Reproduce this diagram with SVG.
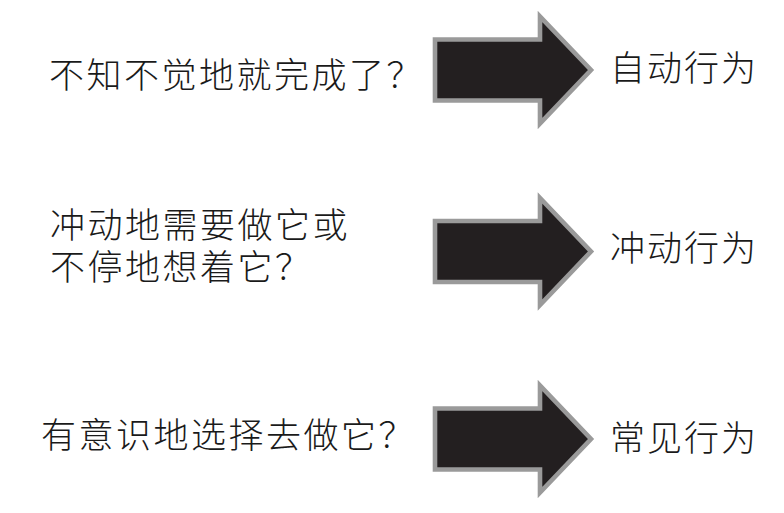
<svg xmlns="http://www.w3.org/2000/svg" width="784" height="513" viewBox="0 0 784 513">
  <defs>
    <style>
      .lbl { font-family: "Noto Sans CJK SC", "Noto Sans CJK JP", sans-serif; font-size: 35px; font-weight: 300; fill: #1a1a1a; letter-spacing: 2.5px; }
      .res { letter-spacing: 2px; }
      .arrow { fill: #231f20; stroke: #9a9a9a; stroke-width: 4.6; stroke-linejoin: miter; }
    </style>
    <!-- block arrow centred on y=0 -->
    <polygon id="blockArrow" class="arrow" points="435,-30.5 540,-30.5 540,-53.5 591,0 540,53.5 540,30.5 435,30.5"/>
  </defs>
  <rect width="784" height="513" fill="#ffffff"/>

  <g id="connectors">
    <use href="#blockArrow" transform="translate(0,70)"/>
    <use href="#blockArrow" transform="translate(0,251.5)"/>
    <use href="#blockArrow" transform="translate(0,439)"/>
  </g>

  <g id="q-automatic">
    <text class="lbl" x="49" y="87.5">不知不觉地就完成了？</text>
  </g>
  <g id="q-impulsive">
    <text class="lbl"><tspan x="50" y="237.5">冲动地需要做它或</tspan><tspan x="50" y="279.5">不停地想着它？</tspan></text>
  </g>
  <g id="q-deliberate">
    <text class="lbl" x="41" y="447.5">有意识地选择去做它？</text>
  </g>

  <g id="r-automatic">
    <text class="lbl res" x="610" y="80.5">自动行为</text>
  </g>
  <g id="r-impulsive">
    <text class="lbl res" x="610" y="260.5">冲动行为</text>
  </g>
  <g id="r-habitual">
    <text class="lbl res" x="610" y="450.5">常见行为</text>
  </g>
</svg>
